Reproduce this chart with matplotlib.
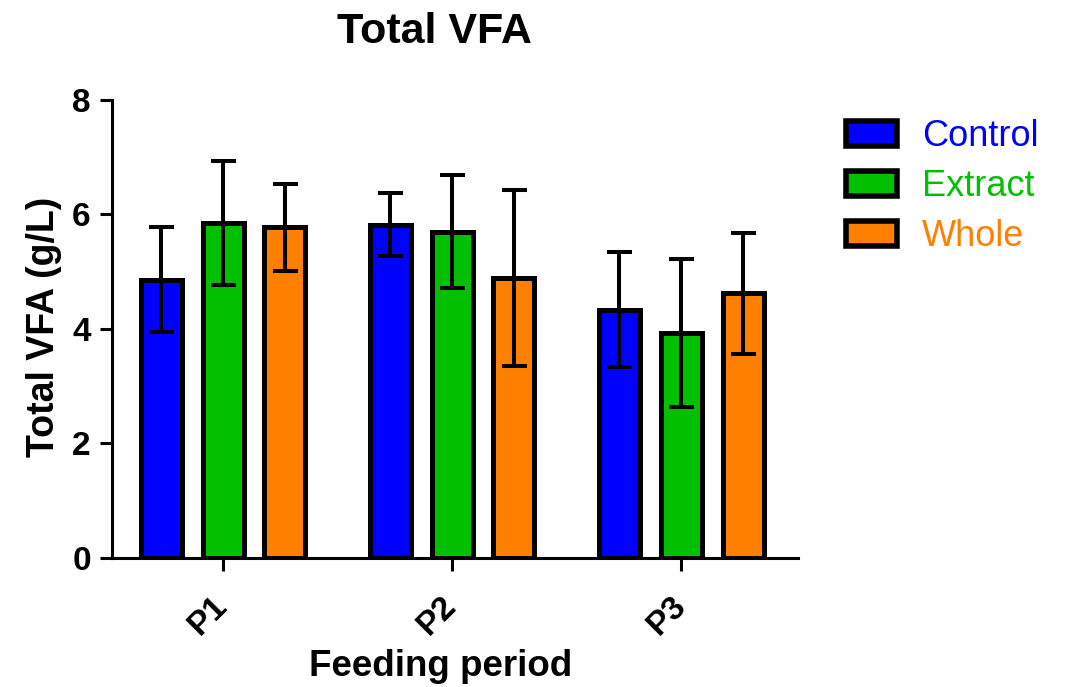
import matplotlib.pyplot as plt
import numpy as np

plt.rcParams['font.family'] = ['Liberation Sans', 'DejaVu Sans']

periods = ['P1', 'P2', 'P3']
groups = ['Control', 'Extract', 'Whole']
colors = ['#0000ff', '#00c000', '#ff8000']

# means and error (SD) per group, one value per feeding period
control_mean = [4.86, 5.82, 4.34]
control_err = [0.92, 0.55, 1.00]
extract_mean = [5.85, 5.70, 3.93]
extract_err = [1.08, 0.99, 1.30]
whole_mean = [5.78, 4.89, 4.62]
whole_err = [0.76, 1.53, 1.06]

means = [control_mean, extract_mean, whole_mean]
errs = [control_err, extract_err, whole_err]

fig = plt.figure(figsize=(10.71, 6.87), dpi=100)
ax = fig.add_axes([0.1043, 0.1878, 0.6408, 0.6667])

x = np.arange(len(periods))
offset = 0.27
width = 0.179
for i in range(len(groups)):
    pos = x + (i - 1) * offset
    ax.bar(pos, means[i], width, color=colors[i], edgecolor='black',
           linewidth=3.6, label=groups[i], zorder=2)
    ax.errorbar(pos, means[i], yerr=errs[i], fmt='none', ecolor='black',
                elinewidth=2.9, capsize=9, capthick=2.9, zorder=3)

ax.set_xlim(-0.486, 2.51)
ax.set_ylim(0, 8)
ax.set_yticks([0, 2, 4, 6, 8])
ax.set_xticks(x)
ax.set_xticklabels(periods, rotation=45, ha='right', va='center',
                   rotation_mode='anchor', fontsize=24, fontweight='bold')
for lab in ax.get_yticklabels():
    lab.set_fontsize(24)
    lab.set_fontweight('bold')

for s in ['top', 'right']:
    ax.spines[s].set_visible(False)
for s in ['left', 'bottom']:
    ax.spines[s].set_linewidth(2.2)
ax.tick_params(axis='y', direction='out', length=9, width=2.2, pad=6)
ax.tick_params(axis='x', direction='out', length=9, width=2.2, pad=22)

ax.set_ylabel('Total VFA (g/L)', fontsize=27, fontweight='bold', va='center')
ax.yaxis.set_label_coords(-0.099, 0.505)
ax.set_xlabel('Feeding period', fontsize=26.5, fontweight='bold', va='center')
ax.xaxis.set_label_coords(0.479, -0.238)

fig.text(0.406, 0.953, 'Total VFA', fontsize=31, fontweight='bold',
         ha='center', va='center')

leg = ax.legend(loc='upper left', bbox_to_anchor=(1.049, 0.99), frameon=False,
                fontsize=26, handlelength=1.4, handleheight=0.7,
                handletextpad=0.7, labelspacing=0.42, borderaxespad=0)
for t, c in zip(leg.get_texts(), colors):
    t.set_color(c)
for h in leg.legend_handles:
    h.set_linewidth(4.0)

plt.savefig('out.png', dpi=100)
plt.close()
